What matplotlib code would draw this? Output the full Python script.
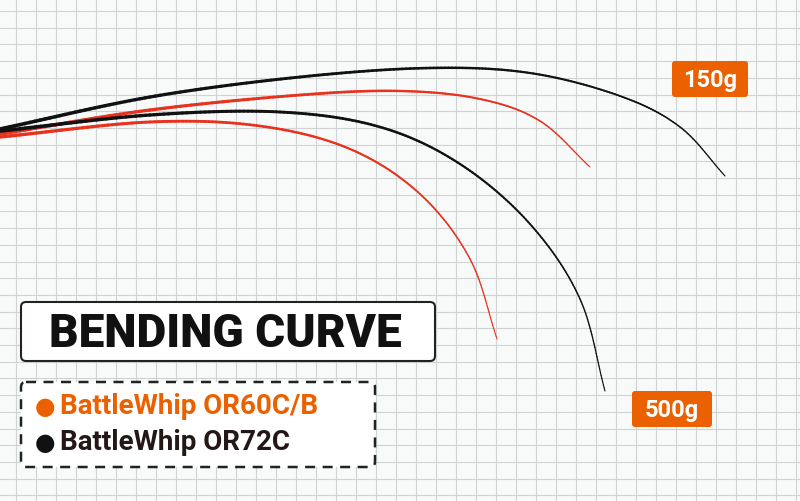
import numpy as np
import matplotlib
matplotlib.use("Agg")
import matplotlib.pyplot as plt
from matplotlib.patches import FancyBboxPatch

# Curve data in image pixel coordinates (x right, y down)
black150_x = [0, 150, 300, 430, 530, 620, 680, 725]
black150_y = [130, 98, 78, 69, 74, 97, 128, 177]
red150_x = [0, 150, 300, 400, 480, 540, 590]
red150_y = [135, 111, 96, 92, 100, 122, 168]
black500_x = [0, 150, 280, 380, 460, 530, 580, 605]
black500_y = [132, 116, 113, 128, 165, 225, 300, 392]
red500_x = [0, 150, 260, 350, 420, 470, 497]
red500_y = [138, 123, 127, 150, 195, 260, 340]

ORANGE = "#EB6100"
RED = "#E8321E"

def smooth(xs, ys, n=30):
    p = np.column_stack([xs, ys]).astype(float)
    p = np.vstack([2*p[0]-p[1], p, 2*p[-1]-p[-2]])
    out = []
    t = np.linspace(0, 1, n, endpoint=False)[:, None]
    for i in range(1, len(p)-2):
        p0, p1, p2, p3 = p[i-1], p[i], p[i+1], p[i+2]
        out.append(0.5*((2*p1) + (-p0+p2)*t + (2*p0-5*p1+4*p2-p3)*t**2 + (-p0+3*p1-3*p2+p3)*t**3))
    out.append(p[-2][None, :])
    o = np.vstack(out)
    return o[:, 0], o[:, 1]

fig = plt.figure(figsize=(8, 5.02), dpi=100)
ax = fig.add_axes([0, 0, 1, 1])
ax.set_xlim(0, 800)
ax.set_ylim(502, 0)
ax.axis("off")
fig.patch.set_facecolor("#F8FAFA")

for gx in np.arange(16, 800, 20):
    ax.axvline(gx, color="#CFD3D4", lw=0.8, zorder=0)
for gy in np.arange(12, 502, 16.7):
    ax.axhline(gy, color="#CFD3D4", lw=0.8, zorder=0)

for xs, ys, c, lw in [(black150_x, black150_y, "#111111", 2.6),
                      (red150_x, red150_y, RED, 2.6),
                      (black500_x, black500_y, "#111111", 2.6),
                      (red500_x, red500_y, RED, 2.4)]:
    sx, sy = smooth(xs, ys)
    n = len(sx)
    for i in range(n-1):
        w = lw * (1 - 0.7 * i / n)
        ax.plot(sx[i:i+2], sy[i:i+2], color=c, lw=w, solid_capstyle="round", zorder=2)

for (x0, y0, w, h, txt) in [(672, 62, 76, 36, "150g"), (632, 392, 80, 36, "500g")]:
    ax.add_patch(FancyBboxPatch((x0, y0), w, h, boxstyle="round,pad=0,rounding_size=3",
                                fc=ORANGE, ec="none", zorder=3))
    ax.text(x0 + w/2, y0 + h/2 + 1, txt, color="white", fontsize=17, fontweight="bold",
            ha="center", va="center", family="Roboto", zorder=4)

ax.add_patch(FancyBboxPatch((21, 303), 414, 59, boxstyle="round,pad=0,rounding_size=5",
                            fc="white", ec="#222222", lw=1.5, zorder=3))
ax.text(225, 334, "BENDING CURVE", fontsize=33, fontweight="heavy", family="Roboto",
        ha="center", va="center", color="#111111", zorder=4)

ax.add_patch(FancyBboxPatch((21, 383), 354, 85, boxstyle="round,pad=0,rounding_size=5",
                            fc="white", ec="#222222", lw=1.8, ls=(0, (4, 3)), zorder=3))
ax.text(35, 407, "●", color=ORANGE, fontsize=17, va="center", ha="left", zorder=4, family="DejaVu Sans")
ax.text(60, 407, "BattleWhip OR60C/B", color=ORANGE, fontsize=20, fontweight="bold",
        family="Roboto", va="center", ha="left", zorder=4)
ax.text(35, 443, "●", color="#111111", fontsize=17, va="center", ha="left", zorder=4, family="DejaVu Sans")
ax.text(60, 443, "BattleWhip OR72C", color="#231815", fontsize=20, fontweight="bold",
        family="Roboto", va="center", ha="left", zorder=4)

fig.savefig("out.png", dpi=100, facecolor=fig.get_facecolor())
